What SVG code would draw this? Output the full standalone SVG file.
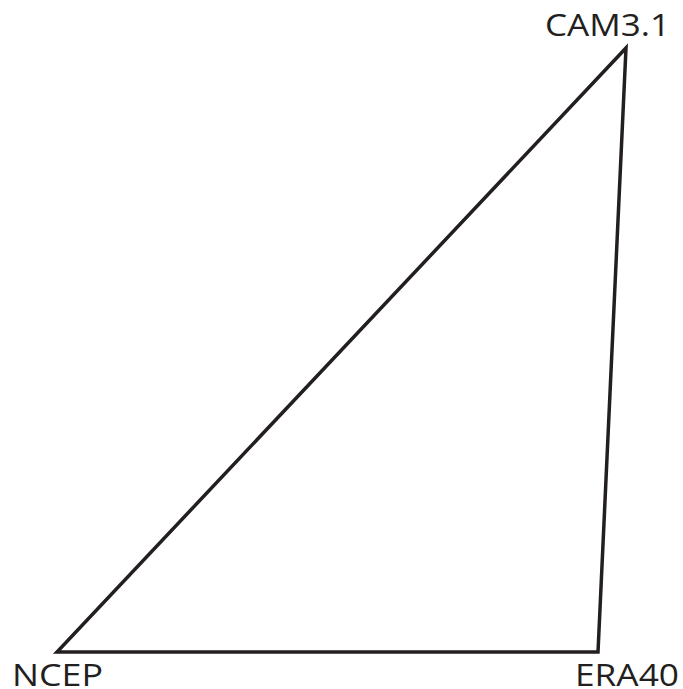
<svg xmlns="http://www.w3.org/2000/svg" width="683" height="689" viewBox="0 0 683 689">
<style>
.lbl{font-family:"Open Sans","Noto Sans","Liberation Sans",sans-serif;font-size:31px;fill:#231f20}
.edge{stroke:#231f20;stroke-width:3.5;fill:none;stroke-linejoin:miter}
</style>
<rect width="683" height="689" fill="#fff"/>
<g id="connectors">
<path class="edge" d="M626,48 L598,652 L57,652 Z"/>
</g>
<g id="CAM3.1"><text class="lbl" x="545" y="36" textLength="125" lengthAdjust="spacingAndGlyphs">CAM3.1</text></g>
<g id="NCEP"><text class="lbl" x="12" y="686" textLength="91" lengthAdjust="spacingAndGlyphs">NCEP</text></g>
<g id="ERA40"><text class="lbl" x="575" y="686" textLength="104" lengthAdjust="spacingAndGlyphs">ERA40</text></g>
</svg>
